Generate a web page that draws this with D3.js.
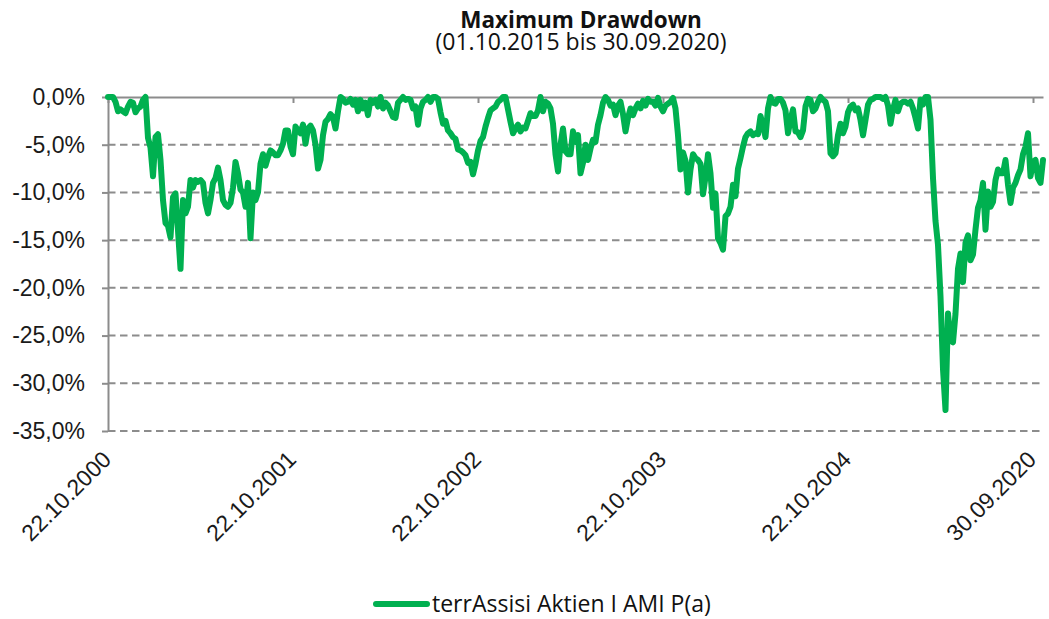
<!DOCTYPE html>
<html lang="de">
<head>
<meta charset="UTF-8" />
<title>Maximum Drawdown</title>
<script src="https://cdn.jsdelivr.net/npm/d3@7"></script>
<style>
  body { margin: 0; background: #fff; }
  svg { font-family: "Open Sans", sans-serif; display: block; }
  .grid line { stroke: #8c8c8c; stroke-width: 2; stroke-dasharray: 7.5 4.5; }
  .axis path, .axis line { stroke: #8c8c8c; stroke-width: 2; }
  .axis text { fill: #1a1a1a; font-size: 23px; }
</style>
</head>
<body>
<script>
// drawdown in %, one sample every ~3.4 trading days
const values = [
  0, 0, 0, -0.5, -1.5, -1.3, -1.5, -1.7, -1.0, -0.5,
  -0.6, -1.6, -1.2, -1.0, -0.3, 0, -4.3, -5.3, -8.3, -4.2,
  -3.9, -6.6, -10.8, -13.2, -13.5, -14.7, -10.5, -10.1, -14.0, -18.0,
  -10.8, -12.2, -11.5, -8.7, -9.5, -8.7, -8.9, -8.7, -9.0, -11.1,
  -12.2, -10.8, -9.0, -8.5, -7.4, -8.7, -10.8, -11.3, -11.5, -11.1,
  -9.5, -6.8, -8.0, -9.7, -10.0, -11.5, -9.0, -14.8, -10.0, -10.8,
  -10.0, -7.0, -6.0, -7.2, -6.3, -5.6, -5.8, -6.1, -6.1, -5.6,
  -4.9, -3.5, -3.5, -5.2, -6.0, -3.1, -3.5, -3.8, -2.9, -4.9,
  -3.3, -3.0, -3.5, -5.0, -7.5, -6.6, -4.0, -2.6, -2.3, -1.8,
  -2.1, -3.3, -1.5, 0, -0.2, -0.6, -0.5, -0.2, -0.8, -0.3,
  -1.5, -0.3, -1.2, -0.6, -1.9, -0.3, -0.6, -0.3, -1.0, 0,
  -1.2, -0.6, -0.9, -1.5, -2.1, -2.2, -0.6, -0.3, 0, -0.3,
  -0.2, -0.3, -1.2, -1.0, -2.9, -1.2, -0.5, -0.3, 0, -0.5,
  0, 0, -0.2, -1.6, -2.8, -2.5, -3.5, -3.8, -4.2, -4.4,
  -5.5, -5.6, -5.8, -6.1, -6.9, -6.8, -8.1, -7.0, -5.6, -4.6,
  -4.2, -3.1, -2.2, -1.4, -1.2, -1.0, -0.5, -0.3, 0, 0,
  -1.3, -2.6, -3.8, -3.3, -2.9, -3.6, -3.2, -3.3, -2.5, -1.7,
  -2.0, -2.0, -1.4, 0, -1.5, -0.5, -0.7, -1.2, -2.8, -6.0,
  -7.8, -5.0, -3.3, -5.7, -6.0, -6.0, -3.6, -4.7, -4.0, -8.0,
  -6.9, -5.0, -6.6, -5.4, -4.5, -4.7, -2.9, -1.9, -0.6, 0,
  -0.3, -0.9, -0.8, -1.9, -0.9, -0.5, -1.8, -3.6, -2.2, -1.2,
  -1.9, -1.2, -0.7, -1.2, -0.4, -0.9, -0.2, -0.5, -0.5, -0.9,
  -0.1, -1.0, -1.5, -0.9, -0.7, -0.5, -0.1, -1.2, -4.0, -7.6,
  -5.8, -6.7, -10.0, -7.6, -6.0, -6.4, -6.6, -7.0, -10.2, -8.4,
  -6.0, -8.0, -11.6, -10.1, -14.8, -15.3, -16.0, -12.5, -12.2, -11.5,
  -9.2, -10.4, -7.5, -6.4, -5.2, -4.2, -3.8, -3.6, -4.0, -3.8,
  -3.9, -2.0, -3.0, -4.2, -1.2, 0, -0.6, -0.7, -0.2, -0.2,
  -0.6, -1.4, -3.8, -2.4, -1.3, -3.6, -3.7, -4.2, -3.5, -1.0,
  -0.2, -0.3, -1.5, -1.2, -0.5, 0, -0.3, -0.5, -1.5, -5.9,
  -6.2, -5.9, -4.0, -2.8, -3.8, -3.1, -1.6, -1.0, -0.8, -1.4,
  -1.2, -2.4, -4.0, -2.4, -0.8, -0.3, -0.2, 0, 0, 0,
  -0.2, 0, -0.9, -2.8, -1.3, -0.3, -1.5, -0.7, -0.5, -0.5,
  -0.7, -0.5, -1.2, -2.2, -3.3, -0.3, -0.8, 0, 0, -2.4,
  -8.5, -13.0, -15.5, -20.9, -28.5, -32.8, -22.7, -25.5, -25.7, -22.7,
  -18.0, -16.4, -19.4, -15.3, -14.5, -17.1, -16.5, -13.9, -11.6, -10.8,
  -9.0, -13.9, -9.9, -11.5, -11.0, -8.7, -7.6, -8.0, -8.0, -6.6,
  -9.2, -11.1, -9.5, -9.0, -8.2, -7.6, -6.0, -5.2, -3.8, -8.3,
  -6.8, -6.6, -8.5, -9.0, -6.6
];
const xTickIndex = [0, 74, 148, 222, 296, 370];
const xTickLabels = ["22.10.2000", "22.10.2001", "22.10.2002", "22.10.2003", "22.10.2004", "30.09.2020"];
const yTicks = [0, -5, -10, -15, -20, -25, -30, -35];
const seriesName = "terrAssisi Aktien I AMI P(a)";
const title = "Maximum Drawdown";
const subtitle = "(01.10.2015 bis 30.09.2020)";

const W = 1049, H = 619;
const margin = {top: 97, right: 6, bottom: 188, left: 108};
const green = "#00b050";

const de = d3.formatLocale({decimal: ",", thousands: ".", grouping: [3], currency: ["", " €"], minus: "-"});
const fmt = v => de.format(".1f")(v) + "%";

const svg = d3.select("body").append("svg").attr("width", W).attr("height", H);

const x = d3.scaleLinear().domain([0, values.length - 1]).range([margin.left, W - margin.right]);
const y = d3.scaleLinear().domain([-35, 0]).range([H - margin.bottom, margin.top]);

// dashed gridlines
svg.append("g").attr("class", "grid")
  .selectAll("line").data(yTicks.filter(d => d !== 0)).join("line")
    .attr("x1", margin.left).attr("x2", W - margin.right)
    .attr("y1", d => y(d)).attr("y2", d => y(d));

// y axis
svg.append("g").attr("class", "axis")
  .attr("transform", `translate(${margin.left},0)`)
  .call(d3.axisLeft(y).tickValues(yTicks).tickFormat(fmt).tickSize(6).tickSizeOuter(0).tickPadding(17));

// category axis at zero line
svg.append("g").attr("class", "axis")
  .attr("transform", `translate(0,${y(0)})`)
  .call(d3.axisBottom(x).tickValues(xTickIndex).tickSize(6).tickSizeOuter(0).tickFormat(""));

// rotated category labels below the plot
const xl = svg.append("g").attr("class", "axis")
  .attr("transform", `translate(0,${y(-35)})`)
  .call(d3.axisBottom(x).tickValues(xTickIndex).tickSize(0)
    .tickFormat((d, i) => xTickLabels[i]));
xl.select(".domain").remove();
xl.selectAll("text")
  .attr("text-anchor", "end")
  .attr("dy", null).attr("y", 0)
  .attr("transform", "translate(4,30) rotate(-45)");

// series
const line = d3.line().x((d, i) => x(i)).y(d => y(d));
svg.append("path").datum(values)
  .attr("fill", "none").attr("stroke", green)
  .attr("stroke-width", 6).attr("stroke-linejoin", "round").attr("stroke-linecap", "round")
  .attr("d", line);

// title block
const cx = 581;
const tt = svg.append("text").attr("text-anchor", "middle").attr("fill", "#111");
tt.append("tspan").attr("x", cx).attr("y", 28)
  .attr("font-size", 22.5).attr("font-weight", "bold").text(title);
tt.append("tspan").attr("x", cx).attr("y", 50)
  .attr("font-size", 23).text(subtitle);

// legend
const lg = svg.append("g").attr("transform", "translate(376,604)");
lg.append("line").attr("x1", 0).attr("x2", 51).attr("y1", 0).attr("y2", 0)
  .attr("stroke", green).attr("stroke-width", 6).attr("stroke-linecap", "round");
lg.append("text").attr("x", 56).attr("y", 8).attr("font-size", 23).attr("fill", "#111").text(seriesName);
</script>
</body>
</html>
